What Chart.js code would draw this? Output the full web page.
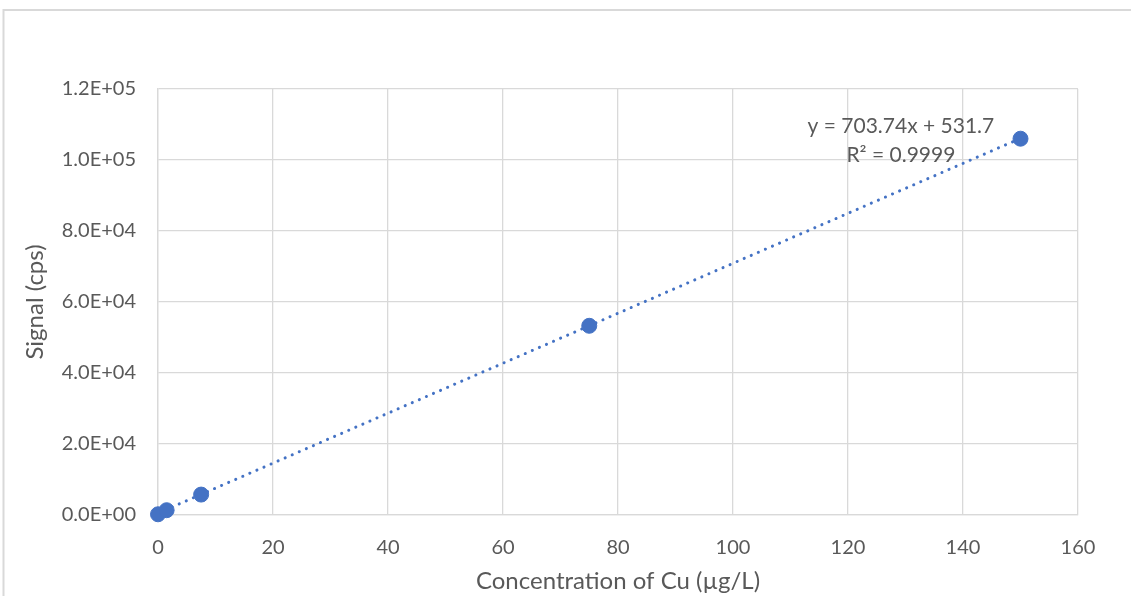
<!DOCTYPE html>
<html>
<head>
<meta charset="utf-8">
<script src="https://cdn.jsdelivr.net/npm/chart.js@4"></script>
<style>
  html, body { margin: 0; padding: 0; background: #ffffff; }
  #wrap { position: relative; width: 1131px; height: 596px; }
</style>
</head>
<body>
<div id="wrap"><canvas id="chart" width="1131" height="596"></canvas></div>
<script>
// Calibration standards for Cu
const concentrations = [0, 1.5, 7.5, 75, 150];          // µg/L
const signals = [200, 1350, 5750, 53300, 106000];        // cps

// Linear fit reported on the chart
const slope = 703.74;
const intercept = 531.7;
const fitRange = [0, 150];
const equationLines = ['y = 703.74x + 531.7', 'R² = 0.9999'];
const equationAnchor = { x: 129.2, y: 109600 };

// Axis ticks
const xTicks = [0, 20, 40, 60, 80, 100, 120, 140, 160];
const yTicks = [0, 20000, 40000, 60000, 80000, 100000, 120000];

const BLUE = '#4472C4';
const TEXT = '#595959';
const GRID = '#d9d9d9';
const FONT = 'Lato, "Open Sans", sans-serif';

function sci(v) {
  const s = Number(v).toExponential(1);           // e.g. "1.2e+5"
  const [m, e] = s.split('e');
  const sign = e[0] === '-' ? '-' : '+';
  const digits = e.replace(/[+-]/, '').padStart(2, '0');
  return m + 'E' + sign + digits;
}

// Frame lines along the top and left edge of the chart object
const framePlugin = {
  id: 'frame',
  beforeDraw(chart) {
    const ctx = chart.ctx;
    ctx.save();
    ctx.strokeStyle = GRID;
    ctx.lineWidth = 2;
    ctx.beginPath();
    ctx.moveTo(1131, 10);
    ctx.lineTo(3.5, 10);
    ctx.lineTo(3.5, 596);
    ctx.stroke();
    ctx.restore();
  }
};

// Trendline equation text
const equationPlugin = {
  id: 'equation',
  afterDatasetsDraw(chart) {
    const { ctx, scales } = chart;
    const cx = scales.x.getPixelForValue(equationAnchor.x);
    const cy = scales.y.getPixelForValue(equationAnchor.y);
    ctx.save();
    ctx.fillStyle = TEXT;
    ctx.font = '21px ' + FONT;
    ctx.textAlign = 'center';
    ctx.textBaseline = 'middle';
    equationLines.forEach((t, i) => ctx.fillText(t, cx, cy + i * 29));
    ctx.restore();
  }
};

const points = concentrations.map((c, i) => ({ x: c, y: signals[i] }));
const fitLine = fitRange.map(x => ({ x, y: slope * x + intercept }));

new Chart(document.getElementById('chart'), {
  type: 'scatter',
  data: {
    datasets: [
      {
        type: 'line',
        label: 'Linear fit',
        data: fitLine,
        borderColor: BLUE,
        borderWidth: 3,
        borderDash: [0.1, 7.6],
        borderCapStyle: 'round',
        pointRadius: 0,
        fill: false,
        clip: false,
        order: 2
      },
      {
        label: 'Signal',
        data: points,
        backgroundColor: BLUE,
        borderColor: BLUE,
        borderWidth: 1,
        pointRadius: 7.5,
        pointHoverRadius: 7.5,
        clip: false,
        order: 1
      }
    ]
  },
  options: {
    responsive: false,
    animation: false,
    events: [],
    layout: { padding: { left: 21, top: 89, right: 53, bottom: 0 } },
    plugins: {
      legend: { display: false },
      tooltip: { enabled: false }
    },
    scales: {
      x: {
        type: 'linear',
        min: 0,
        max: 160,
        afterBuildTicks(s) { s.ticks = xTicks.map(v => ({ value: v })); },
        afterFit(s) { s.height = 81; },
        grid: { color: GRID, lineWidth: 1.3, drawTicks: false },
        border: { color: GRID, width: 1.3 },
        ticks: { color: TEXT, font: { family: FONT, size: 20 }, padding: 21, maxRotation: 0 },
        title: {
          display: true,
          text: 'Concentration of Cu (µg/L)',
          color: TEXT,
          font: { family: FONT, size: 24 },
          padding: 0
        }
      },
      y: {
        type: 'linear',
        min: 0,
        max: 120000,
        afterBuildTicks(s) { s.ticks = yTicks.map(v => ({ value: v })); },
        afterFit(s) { s.width = 137; },
        grid: { color: GRID, lineWidth: 1.3, drawTicks: false },
        border: { color: GRID, width: 1.3 },
        ticks: { color: TEXT, font: { family: FONT, size: 20 }, padding: 22, callback: v => sci(v) },
        title: {
          display: true,
          text: 'Signal (cps)',
          color: TEXT,
          font: { family: FONT, size: 24 },
          padding: 0
        }
      }
    }
  },
  plugins: [framePlugin, equationPlugin]
});
</script>
</body>
</html>
